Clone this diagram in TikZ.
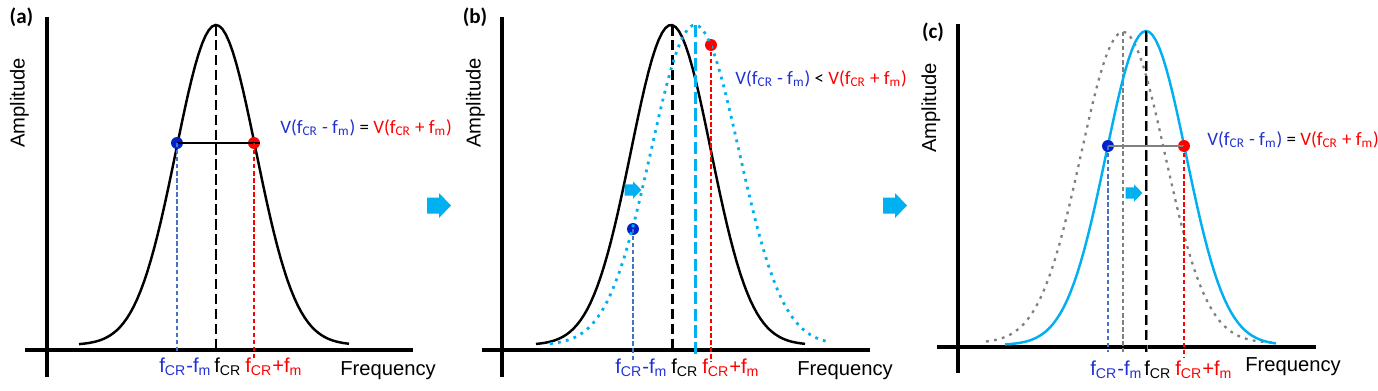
\documentclass[tikz,border=0pt]{standalone}
\usepackage{fontspec}
\setmainfont{Liberation Sans}
\newfontfamily\calibri{Carlito}
\usetikzlibrary{calc}
\definecolor{bleufonce}{RGB}{0,32,200}
\definecolor{bleutexte}{RGB}{32,48,210}
\definecolor{bleuclair}{RGB}{68,114,196}
\definecolor{cyanfig}{RGB}{0,176,240}
\definecolor{gris}{RGB}{128,128,128}
\tikzset{
  axe/.style={line width=2.3pt},
  courbe/.style={line width=1.4pt},
  pointille/.style={line width=1.6pt, dash pattern=on 1.6pt off 3pt},
  centre/.style={line width=1.7pt, dash pattern=on 6pt off 2.5pt},
  repere/.style={line width=0.6pt, dash pattern=on 2.5pt off 1.5pt},
  point/.style={circle, fill, inner sep=0pt, minimum size=6.8pt},
  etiq/.style={font=\fontsize{11.5}{13}\selectfont, inner sep=0pt},
  vtxt/.style={font=\calibri\fontsize{10.8}{13}\selectfont, inner sep=0pt, anchor=base west},
  titre/.style={font=\calibri\bfseries\fontsize{12}{14}\selectfont, inner sep=0pt},
  fleche/.pic={\fill[cyanfig] (-12,-8) -- (0,-8) -- (0,-12.5) -- (12,0) -- (0,12.5) -- (0,8) -- (-12,8) -- cycle;}
}
\begin{document}
\begin{tikzpicture}[x=0.02cm,y=-0.02cm]
  \useasboundingbox (0,0) rectangle (1378,390);
  % (a)
  \node[titre] (ta) at (21.5,17.5) {(a)};
  \node[etiq, rotate=90] (ampa) at (19.5,103) {Amplitude};
  \draw[axe] (47,17) -- (47,377);
  \draw[axe] (25,350) -- (413,350);
  \draw[courbe] plot[domain=-137:133, samples=80] ({216+\x},{345-320*exp(-0.5*(\x/40)*(\x/40))});
  \draw[centre] (216,25) -- (216,350);
  \node[point, bleufonce] (ga) at (177,143) {};
  \node[point, red] (da) at (254,143) {};
  \draw[line width=0.6pt] (ga.center) -- (da.east);
  \draw[repere, bleuclair] (ga.center) -- (ga.center |- 0,353);
  \draw[repere, red] (da.center) -- (da.center |- 0,358);
  \node[vtxt] (va) at (280,133) {\textcolor{bleutexte}{V(f\textsubscript{CR} - f\textsubscript{m})} = \textcolor{red}{V(f\textsubscript{CR} + f\textsubscript{m})}};
  \node[etiq, anchor=base west, text=bleutexte] (fma) at (159,372) {f\textsubscript{CR}-f\textsubscript{m}};
  \node[etiq, anchor=base west] (fca) at (214,372) {f\textsubscript{CR}};
  \node[etiq, anchor=base west, text=red] (fpa) at (245,372) {f\textsubscript{CR}+f\textsubscript{m}};
  \node[etiq, anchor=base west] (freqa) at (340,375) {Frequency};
  \pic at (439,205.5) {fleche};
  % (b)
  \node[titre] (tb) at (475,17.5) {(b)};
  \node[etiq, rotate=90] (ampb) at (475.5,103) {Amplitude};
  \draw[axe] (502,17) -- (502,377);
  \draw[axe] (482,350) -- (870,350);
  \draw[courbe] plot[domain=-135:134, samples=80] ({671+\x},{345-320*exp(-0.5*(\x/40)*(\x/40))});
  \draw[centre] (672,25) -- (672,350);
  \draw[centre, cyanfig, dash pattern=on 7pt off 2.5pt] (695,25) -- (695,357);
  \node[point, red] (db) at (711,45) {};
  \node[point, bleufonce] (gb) at (633,229) {};
  \draw[pointille, cyanfig] plot[domain=-145:135, samples=80] ({695+\x},{345-320*exp(-0.5*(\x/44)*(\x/44))});
  \draw[repere, bleuclair] (gb.center) -- (gb.center |- 0,362);
  \draw[repere, red] (db.center) -- (db.center |- 0,362);
  \pic[scale=0.7] at (633,190) {fleche};
  \node[vtxt] (vb) at (735,84) {\textcolor{bleutexte}{V(f\textsubscript{CR} - f\textsubscript{m})} < \textcolor{red}{V(f\textsubscript{CR} + f\textsubscript{m})}};
  \node[etiq, anchor=base west, text=bleutexte] (fmb) at (615,373) {f\textsubscript{CR}-f\textsubscript{m}};
  \node[etiq, anchor=base west] (fcb) at (671,373) {f\textsubscript{CR}};
  \node[etiq, anchor=base west, text=red] (fpb) at (702,373) {f\textsubscript{CR}+f\textsubscript{m}};
  \node[etiq, anchor=base west] (freqb) at (797,375) {Frequency};
  \pic at (895,205.5) {fleche};
  % (c)
  \node[titre] (tc) at (933,32.5) {(c)};
  \node[etiq, rotate=90] (ampc) at (931,108) {Amplitude};
  \draw[axe] (958,24) -- (958,373);
  \draw[axe] (937,347) -- (1316,347);
  \draw[pointille, gris, line width=1.3pt] plot[domain=-137:152, samples=80] ({1123+\x},{343-311*exp(-0.5*(\x/42)*(\x/42))});
  \draw[repere, gris] (1123,32) -- (1123,352);
  \draw[courbe, cyanfig] plot[domain=-141:130, samples=80] ({1146+\x},{345-314*exp(-0.5*(\x/40)*(\x/40))});
  \draw[centre, cyanfig] (1146,31) -- (1146,352);
  \draw[centre, line width=1.4pt] (1146,31) -- (1146,352);
  \node[point, bleufonce] (gc) at (1108,146) {};
  \node[point, red] (dc) at (1184,146) {};
  \draw[line width=0.6pt, gris] (gc.center) -- (dc.center);
  \draw[repere, bleuclair] (gc.center) -- (gc.center |- 0,352);
  \draw[repere, red] (dc.center) -- (dc.center |- 0,358);
  \pic[scale=0.7] at (1134,193) {fleche};
  \node[vtxt] (vc) at (1207,145) {\textcolor{bleutexte}{V(f\textsubscript{CR} - f\textsubscript{m})} = \textcolor{red}{V(f\textsubscript{CR} + f\textsubscript{m})}};
  \node[etiq, anchor=base west, text=bleutexte] (fmc) at (1090,375) {f\textsubscript{CR}-f\textsubscript{m}};
  \node[etiq, anchor=base west] (fcc) at (1144,375) {f\textsubscript{CR}};
  \node[etiq, anchor=base west, text=red] (fpc) at (1175,375) {f\textsubscript{CR}+f\textsubscript{m}};
  \node[etiq, anchor=base west] (freqc) at (1245,371) {Frequency};
\end{tikzpicture}
\end{document}
